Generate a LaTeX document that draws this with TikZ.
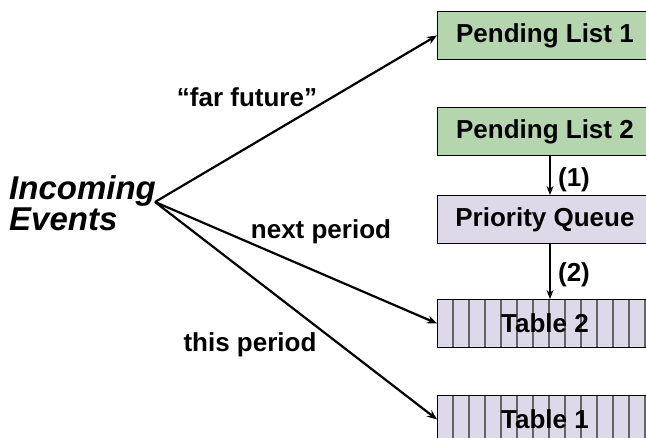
\documentclass[tikz,border=0pt]{standalone}
\usepackage{fontspec}
\setmainfont{Liberation Sans}
\usepackage{tikz}
\usetikzlibrary{positioning,arrows.meta}

\definecolor{listgreen}{RGB}{181,213,174}
\definecolor{queuepurple}{RGB}{221,217,233}
\definecolor{slotgray}{RGB}{100,100,100}

\begin{document}
\begin{tikzpicture}[x=1pt,y=-1pt,
  box/.style={draw=black,line width=0.9pt,minimum width=215pt,minimum height=48pt,
    inner sep=0pt,anchor=north west,font=\fontsize{26}{30}\selectfont\bfseries},
  lbl/.style={font=\fontsize{26}{30}\selectfont\bfseries,inner sep=0pt},
  fan/.style={line width=2.2pt,-{Stealth[length=10pt,width=8pt]}},
  down/.style={line width=1.7pt,-{Stealth[length=9pt,width=7pt]}}]
\useasboundingbox (0,0) rectangle (646,438);
\clip (0,0) rectangle (646,438);
% boxes
\node[box,fill=listgreen] (pl1) at (437,11) {Pending List 1};
\node[box,fill=listgreen] (pl2) at (437,107) {Pending List 2};
\node[box,fill=queuepurple] (pq) at (437,195) {Priority Queue};
\node[box,fill=queuepurple] (tab2) at (437,299) {};
\node[box,fill=queuepurple] (tab1) at (437,395) {};
% table slots
\foreach \t in {tab2,tab1}{
  \foreach \i in {1,...,13}
    \draw[slotgray,line width=1.5pt] ([xshift=\i*16pt]\t.north west) -- ([xshift=\i*16pt]\t.south west);
  \draw[line width=0.9pt] (\t.north west) rectangle (\t.south east);
}
\node[box,draw=none,anchor=center] (tab2txt) at (tab2.center) {Table 2};
\node[box,draw=none,anchor=center] (tab1txt) at (tab1.center) {Table 1};
% source
\node[align=left,anchor=west,inner sep=0pt,
  font=\fontsize{33}{31}\selectfont\bfseries\itshape] (in) at (9,203) {Incoming\\Events};
\coordinate (src) at (155,202);
% arrows
\draw[fan] (src) -- (pl1.west);
\draw[fan] (src) -- (tab2.west);
\draw[fan] (src) -- (tab1.west);
\draw[down] (pl2.south -| 550,0) -- (pq.north -| 550,0);
\draw[down] (pq.south -| 550,0) -- (tab2.north -| 550,0);
% labels
\node[lbl] (far) at (247,97) {“far future”};
\node[lbl] (next) at (321,232) {next period};
\node[lbl] (this) at (250,345) {this period};
\node[lbl] (one) at (574,180) {(1)};
\node[lbl] (two) at (574,275) {(2)};
\end{tikzpicture}
\end{document}
